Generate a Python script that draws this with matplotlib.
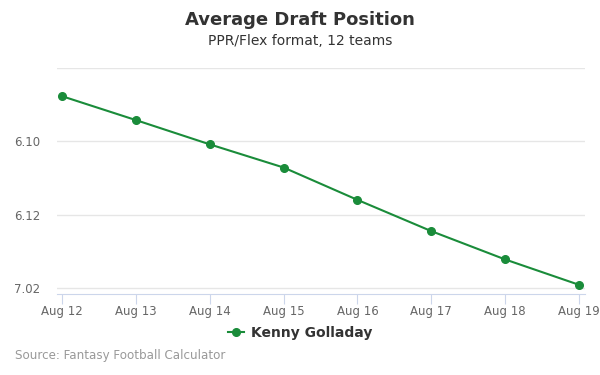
import matplotlib
matplotlib.use("Agg")
import matplotlib.pyplot as plt
from matplotlib.ticker import FuncFormatter
from matplotlib.lines import Line2D

# overall pick numbers (12 team league)
dates = ["Aug 12", "Aug 13", "Aug 14", "Aug 15", "Aug 16", "Aug 17", "Aug 18", "Aug 19"]
adp = [68.77, 69.42, 70.08, 70.71, 71.59, 72.44, 73.21, 73.90]
yTicks = [68, 70, 72, 74]
playerName = "Kenny Golladay"
teams = 12


def pickLabel(value, pos):
    p = int(round(value))
    if p == 68:
        return ""
    rnd = (p - 1) // teams + 1
    pick = (p - 1) % teams + 1
    return "%d.%02d" % (rnd, pick)


fig = plt.figure(figsize=(6, 3.75), dpi=100)
ax = fig.add_axes([0.095, 0.216, 0.88, 0.603])

xs = list(range(len(dates)))
ax.plot(xs, adp, color="#1a8c3a", linewidth=1.5, marker="o", markersize=5.5, zorder=3, clip_on=False)

ax.set_xlim(-0.068, 7.081)
ax.set_ylim(74.15, 68)
ax.set_yticks(yTicks)
ax.yaxis.set_major_formatter(FuncFormatter(pickLabel))
ax.set_xticks(xs)
ax.set_xticklabels(dates)
ax.grid(axis="y", color="#e6e6e6", linewidth=1)
ax.set_axisbelow(True)

for side in ["top", "right", "left"]:
    ax.spines[side].set_visible(False)
ax.spines["bottom"].set_color("#ccd6eb")
ax.tick_params(axis="y", length=0, labelsize=8.5, labelcolor="#666666", pad=12)
ax.tick_params(axis="x", length=7, color="#ccd6eb", labelsize=8.5, labelcolor="#666666", pad=1)

fig.text(0.5, 0.947, "Average Draft Position", ha="center", va="center",
         fontsize=13, fontweight="bold", color="#333333")
fig.text(0.5, 0.891, "PPR/Flex format, 12 teams", ha="center", va="center",
         fontsize=10, color="#333333")

handle = Line2D([0], [0], color="#1a8c3a", marker="o", markersize=5.5, linewidth=1.5)
leg = fig.legend([handle], [playerName], loc="center", bbox_to_anchor=(0.5, 0.112),
                 frameon=False, handlelength=1.2, handletextpad=0.5,
                 prop={"weight": "bold", "size": 10})
for t in leg.get_texts():
    t.set_color("#333333")

fig.text(0.025, 0.051, "Source: Fantasy Football Calculator", ha="left", va="center",
         fontsize=8.6, color="#999999")

fig.savefig("out.png", dpi=100)
